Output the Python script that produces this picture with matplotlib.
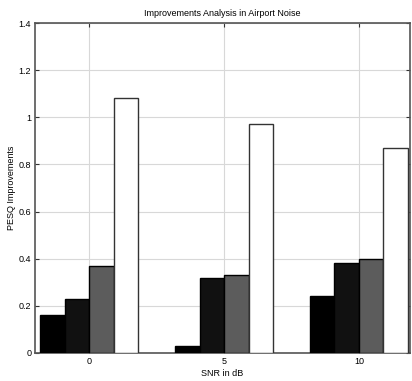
import numpy as np
import matplotlib
matplotlib.use("Agg")
import matplotlib.pyplot as plt

plt.rcParams['font.family'] = ['Liberation Sans', 'DejaVu Sans']

snr_labels = ["0", "5", "10"]
method_a = [0.16, 0.03, 0.24]
method_b = [0.23, 0.32, 0.38]
method_c = [0.37, 0.33, 0.40]
method_d = [1.08, 0.97, 0.87]

series = [method_a, method_b, method_c, method_d]
colors = ["#000000", "#111111", "#5c5c5c", "#ffffff"]

fig = plt.figure(figsize=(4.12, 3.81), dpi=100)
ax = fig.add_axes([0.086, 0.0735, 0.908, 0.866])

x = np.arange(1, len(snr_labels) + 1)
n = len(series)
group_w = min(0.8, n / (n + 1.5))
bar_w = group_w / n
for i, (vals, c) in enumerate(zip(series, colors)):
    offs = (i - (n - 1) / 2) * bar_w
    ax.bar(x + offs, vals, width=bar_w, color=c,
           edgecolor="#333333" if c == "#ffffff" else "black",
           linewidth=1.0, zorder=3)

ax.set_xlim(0.6, 3.375)
ax.set_ylim(0, 1.4)
ax.set_xticks(x)
ax.set_xticklabels(snr_labels)
ax.set_yticks(np.arange(0, 1.41, 0.2))
ax.set_yticklabels(["0", "0.2", "0.4", "0.6", "0.8", "1", "1.2", "1.4"])
ax.tick_params(direction="in", length=3, width=0.8, labelsize=6.5,
               top=True, right=True, colors="#333333", labelcolor="black",
               pad=3)
ax.grid(True, color="#d8d8d8", linewidth=0.8, zorder=0)
ax.set_axisbelow(True)
for s in ax.spines.values():
    s.set_linewidth(1.2)
    s.set_color("#555555")

ax.set_title("Improvements Analysis in Airport Noise", fontsize=6.5, pad=5)
ax.set_xlabel("SNR in dB", fontsize=6.5, labelpad=2)
ax.set_ylabel("PESQ Improvements", fontsize=6.5, labelpad=2)

fig.savefig("out.png", dpi=100)
